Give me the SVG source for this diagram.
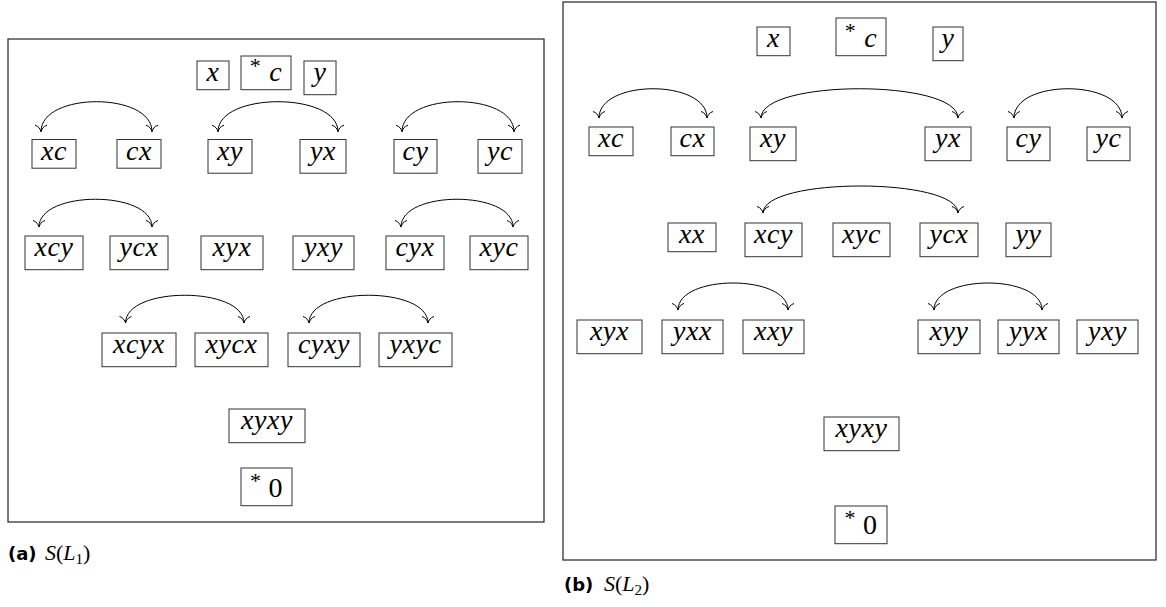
<svg xmlns="http://www.w3.org/2000/svg" width="1166" height="607" viewBox="0 0 1166 607">
<style>
.frame{fill:none;stroke:#222;stroke-width:1.2}
.box{fill:#fff;stroke:#333;stroke-width:1}
.m{font-family:"Liberation Serif","Times New Roman",serif;font-style:italic;font-size:28px;letter-spacing:0.6px;fill:#000}
.up{font-style:normal}
.ast{font-style:normal;font-size:22px}
.arc{fill:none;stroke:#000;stroke-width:1;marker-start:url(#to);marker-end:url(#to)}
.cap{font-family:"DejaVu Sans","Liberation Sans",sans-serif;font-weight:bold;font-size:18px;fill:#000}
.capm{font-family:"Liberation Serif","Times New Roman",serif;font-style:italic;font-size:22px;fill:#000}
</style>
<defs>
<marker id="to" markerUnits="userSpaceOnUse" markerWidth="16" markerHeight="16" viewBox="-10 -8 12 16" refX="0" refY="0" orient="auto-start-reverse" overflow="visible">
<path d="M -6.5,-6 C -5.5,-2.5 -2.5,-0.6 0,0 C -2.5,0.6 -5.5,2.5 -6.5,6" fill="none" stroke="#000" stroke-width="1"/>
</marker>
</defs>
<rect fill="#fff" x="0" y="0" width="1166" height="607"/>

<!-- Panel (a) -->
<g id="panelA">
<rect class="frame" x="8" y="39" width="536" height="483"/>
</g>
<g id="a_x"><rect class="box" x="197" y="61" width="32" height="28.7"/><text class="m" x="213" y="81" text-anchor="middle">x</text></g>
<g id="a_c"><rect class="box" x="241" y="56" width="50" height="33.7"/><text class="m" x="266" y="81" text-anchor="middle"><tspan class="ast" dy="-8">*</tspan><tspan dx="8" dy="8">c</tspan></text></g>
<g id="a_y"><rect class="box" x="304" y="61" width="32" height="33.7"/><text class="m" x="320" y="81" text-anchor="middle">y</text></g>

<g id="a_xc"><rect class="box" x="32" y="139.5" width="44" height="28.7"/><text class="m" x="54" y="159.5" text-anchor="middle">xc</text></g>
<g id="a_cx"><rect class="box" x="117" y="139.5" width="44" height="28.7"/><text class="m" x="139" y="159.5" text-anchor="middle">cx</text></g>
<g id="a_xy"><rect class="box" x="208" y="139.5" width="44" height="33.7"/><text class="m" x="230" y="159.5" text-anchor="middle">xy</text></g>
<g id="a_yx"><rect class="box" x="300" y="139.5" width="46" height="33.7"/><text class="m" x="323" y="159.5" text-anchor="middle">yx</text></g>
<g id="a_cy"><rect class="box" x="394" y="139.5" width="43" height="33.7"/><text class="m" x="415.5" y="159.5" text-anchor="middle">cy</text></g>
<g id="a_yc"><rect class="box" x="478" y="139.5" width="44" height="33.7"/><text class="m" x="500" y="159.5" text-anchor="middle">yc</text></g>

<g id="a_xcy"><rect class="box" x="25" y="236" width="58" height="33.7"/><text class="m" x="54" y="256" text-anchor="middle">xcy</text></g>
<g id="a_ycx"><rect class="box" x="110" y="236" width="58" height="33.7"/><text class="m" x="139" y="256" text-anchor="middle">ycx</text></g>
<g id="a_xyx"><rect class="box" x="201" y="236" width="62" height="33.7"/><text class="m" x="232" y="256" text-anchor="middle">xyx</text></g>
<g id="a_yxy"><rect class="box" x="293" y="236" width="61" height="33.7"/><text class="m" x="323.5" y="256" text-anchor="middle">yxy</text></g>
<g id="a_cyx"><rect class="box" x="386" y="236" width="58" height="33.7"/><text class="m" x="415" y="256" text-anchor="middle">cyx</text></g>
<g id="a_xyc"><rect class="box" x="470" y="236" width="58" height="33.7"/><text class="m" x="499" y="256" text-anchor="middle">xyc</text></g>

<g id="a_xcyx"><rect class="box" x="102" y="333" width="74" height="33.7"/><text class="m" x="139" y="353" text-anchor="middle">xcyx</text></g>
<g id="a_xycx"><rect class="box" x="195" y="333" width="73" height="33.7"/><text class="m" x="231.5" y="353" text-anchor="middle">xycx</text></g>
<g id="a_cyxy"><rect class="box" x="288" y="333" width="72" height="33.7"/><text class="m" x="324" y="353" text-anchor="middle">cyxy</text></g>
<g id="a_yxyc"><rect class="box" x="379" y="333" width="73" height="33.7"/><text class="m" x="415.5" y="353" text-anchor="middle">yxyc</text></g>

<g id="a_xyxy"><rect class="box" x="229" y="409" width="76" height="33.7"/><text class="m" x="267" y="429" text-anchor="middle">xyxy</text></g>
<g id="a_zero"><rect class="box" x="241" y="468" width="51" height="37.7"/><text class="m" x="266.5" y="497" text-anchor="middle"><tspan class="ast" dy="-9">*</tspan><tspan class="up" dx="7" dy="9">0</tspan></text></g>

<!-- Panel (b) -->
<g id="panelB">
<rect class="frame" x="563" y="2" width="593" height="558"/>
</g>
<g id="b_x"><rect class="box" x="757" y="27" width="33" height="28.7"/><text class="m" x="773.5" y="47" text-anchor="middle">x</text></g>
<g id="b_c"><rect class="box" x="836" y="18" width="50" height="37.7"/><text class="m" x="861" y="47" text-anchor="middle"><tspan class="ast" dy="-9">*</tspan><tspan dx="8" dy="9">c</tspan></text></g>
<g id="b_y"><rect class="box" x="933" y="27" width="30" height="33.7"/><text class="m" x="948" y="47" text-anchor="middle">y</text></g>

<g id="b_xc"><rect class="box" x="589" y="127" width="44" height="28.7"/><text class="m" x="611" y="147" text-anchor="middle">xc</text></g>
<g id="b_cx"><rect class="box" x="671" y="127" width="43" height="28.7"/><text class="m" x="692.5" y="147" text-anchor="middle">cx</text></g>
<g id="b_xy"><rect class="box" x="750" y="127" width="46" height="33.7"/><text class="m" x="773" y="147" text-anchor="middle">xy</text></g>
<g id="b_yx"><rect class="box" x="925" y="127" width="46" height="33.7"/><text class="m" x="948" y="147" text-anchor="middle">yx</text></g>
<g id="b_cy"><rect class="box" x="1007" y="127" width="43" height="33.7"/><text class="m" x="1028.5" y="147" text-anchor="middle">cy</text></g>
<g id="b_yc"><rect class="box" x="1087" y="127" width="43" height="33.7"/><text class="m" x="1108.5" y="147" text-anchor="middle">yc</text></g>

<g id="b_xx"><rect class="box" x="668" y="223" width="48" height="28.7"/><text class="m" x="692" y="243" text-anchor="middle">xx</text></g>
<g id="b_xcy"><rect class="box" x="745" y="223" width="57" height="33.7"/><text class="m" x="773.5" y="243" text-anchor="middle">xcy</text></g>
<g id="b_xyc"><rect class="box" x="833" y="223" width="57" height="33.7"/><text class="m" x="861.5" y="243" text-anchor="middle">xyc</text></g>
<g id="b_ycx"><rect class="box" x="920" y="223" width="58" height="33.7"/><text class="m" x="949" y="243" text-anchor="middle">ycx</text></g>
<g id="b_yy"><rect class="box" x="1006" y="223" width="45" height="33.7"/><text class="m" x="1028.5" y="243" text-anchor="middle">yy</text></g>

<g id="b_xyx"><rect class="box" x="577" y="320" width="65" height="33.7"/><text class="m" x="609.5" y="340" text-anchor="middle">xyx</text></g>
<g id="b_yxx"><rect class="box" x="662" y="320" width="61" height="33.7"/><text class="m" x="692.5" y="340" text-anchor="middle">yxx</text></g>
<g id="b_xxy"><rect class="box" x="743" y="320" width="61" height="33.7"/><text class="m" x="773.5" y="340" text-anchor="middle">xxy</text></g>
<g id="b_xyy"><rect class="box" x="918" y="320" width="62" height="33.7"/><text class="m" x="949" y="340" text-anchor="middle">xyy</text></g>
<g id="b_yyx"><rect class="box" x="998" y="320" width="61" height="33.7"/><text class="m" x="1028.5" y="340" text-anchor="middle">yyx</text></g>
<g id="b_yxy"><rect class="box" x="1077" y="320" width="61" height="33.7"/><text class="m" x="1107.5" y="340" text-anchor="middle">yxy</text></g>

<g id="b_xyxy"><rect class="box" x="824" y="417" width="75" height="33.7"/><text class="m" x="861.5" y="437" text-anchor="middle">xyxy</text></g>
<g id="b_zero"><rect class="box" x="835" y="506" width="52" height="37.7"/><text class="m" x="861" y="534" text-anchor="middle"><tspan class="ast" dy="-9">*</tspan><tspan class="up" dx="7" dy="9">0</tspan></text></g>

<!-- Connectors -->
<g id="connectors">
<path class="arc" d="M 41,131.7 C 41,91.7 152,91.7 152,131.7"/>
<path class="arc" d="M 218,131.7 C 218,91.7 338,91.7 338,131.7"/>
<path class="arc" d="M 402,131.7 C 402,91.7 514,91.7 514,131.7"/>
<path class="arc" d="M 39,227 C 39,190 152,190 152,227"/>
<path class="arc" d="M 401,227 C 401,190 513,190 513,227"/>
<path class="arc" d="M 125.5,323 C 125.5,286 244,286 244,323"/>
<path class="arc" d="M 309,323 C 309,286 428,286 428,323"/>
<path class="arc" d="M 599,118 C 599,79 707,79 707,118"/>
<path class="arc" d="M 761,118 C 761,79 958,79 958,118"/>
<path class="arc" d="M 1014,118 C 1014,79 1122,79 1122,118"/>
<path class="arc" d="M 763,213 C 763,177 958,177 958,213"/>
<path class="arc" d="M 678,310 C 678,274 788,274 788,310"/>
<path class="arc" d="M 934,310 C 934,274 1042,274 1042,310"/>
</g>

<!-- Captions -->
<g id="captionA"><text class="cap" x="8" y="560">(a)</text><text class="capm" x="45" y="560">S<tspan class="up">(</tspan>L<tspan class="up" font-size="15" dy="4">1</tspan><tspan class="up" dy="-4">)</tspan></text></g>
<g id="captionB"><text class="cap" x="564" y="591">(b)</text><text class="capm" x="604" y="591">S<tspan class="up">(</tspan>L<tspan class="up" font-size="15" dy="4">2</tspan><tspan class="up" dy="-4">)</tspan></text></g>
</svg>
